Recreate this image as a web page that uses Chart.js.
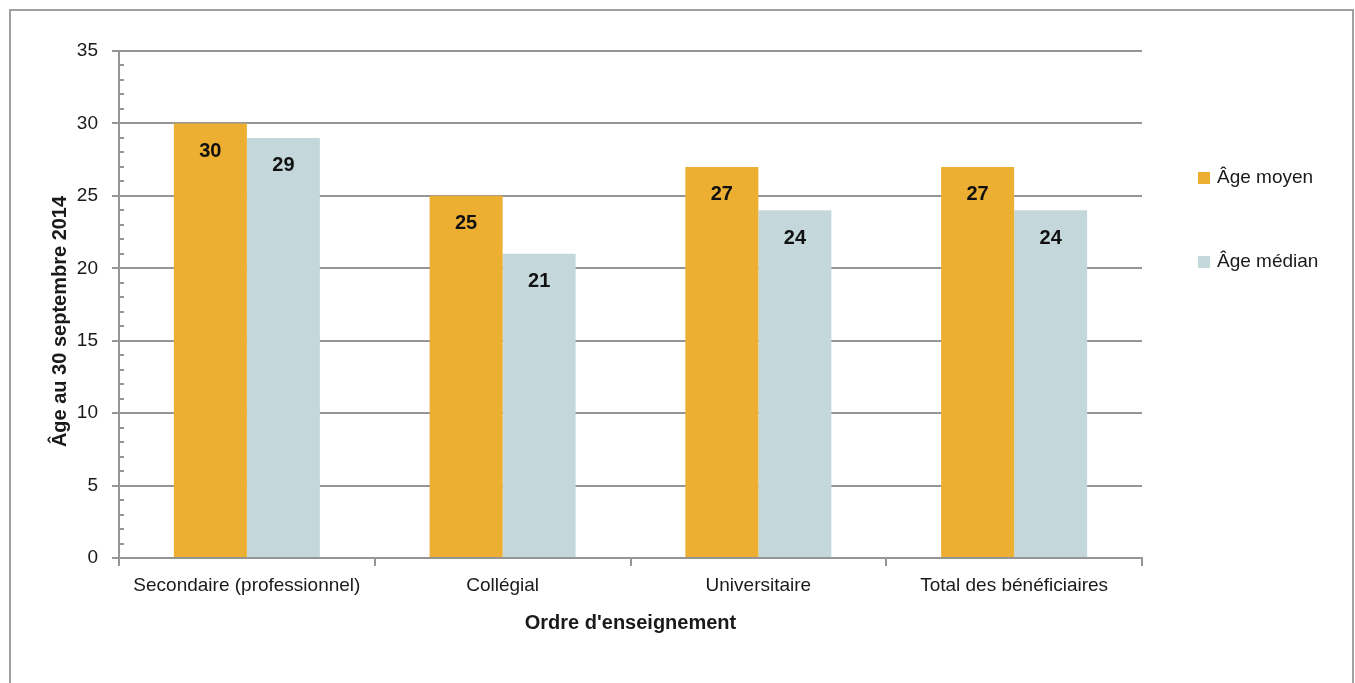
<!DOCTYPE html>
<html>
<head>
<meta charset="utf-8">
<script src="https://cdn.jsdelivr.net/npm/chart.js@4/dist/chart.umd.min.js"></script>
<style>
  html, body { margin: 0; padding: 0; background: #fff; overflow: hidden; }
  #wrap { position: relative; width: 1355px; height: 683px; }
  #frame { position: absolute; left: 9px; top: 9px; width: 1345px; height: 700px; border: 2px solid #a0a0a0; box-sizing: border-box; pointer-events: none; }
  canvas { position: absolute; left: 0; top: 0; }
</style>
</head>
<body>
<div id="wrap">
  <canvas id="c" width="1355" height="683"></canvas>
  <div id="frame"></div>
</div>
<script>
const categories = ["Secondaire (professionnel)", "Collégial", "Universitaire", "Total des bénéficiaires"];
const ageMoyen = [30, 25, 27, 27];
const ageMedian = [29, 21, 24, 24];
const seriesNames = ["Âge moyen", "Âge médian"];
const yTicks = [0, 5, 10, 15, 20, 25, 30, 35];
const yTitle = "Âge au 30 septembre 2014";

const FONT = "'Liberation Sans', Arial, sans-serif";
const GRID = '#959595';
const TXT = '#1a1a1a';

const minorTicks = {
  id: 'minorTicks',
  afterDraw(chart) {
    const y = chart.scales.y, ctx = chart.ctx;
    ctx.save();
    ctx.strokeStyle = GRID; ctx.lineWidth = 2;
    for (let v = y.min; v <= y.max; v++) {
      if (v % 5 === 0) continue;
      const py = Math.round(y.getPixelForValue(v));
      ctx.beginPath(); ctx.moveTo(y.right, py); ctx.lineTo(y.right + 5, py); ctx.stroke();
    }
    ctx.restore();
  }
};

const barLabels = {
  id: 'barLabels',
  afterDatasetsDraw(chart) {
    const ctx = chart.ctx;
    ctx.save();
    ctx.font = "bold 20px " + FONT;
    ctx.fillStyle = '#111';
    ctx.textAlign = 'center'; ctx.textBaseline = 'middle';
    chart.data.datasets.forEach((ds, i) => {
      chart.getDatasetMeta(i).data.forEach((bar, j) => {
        ctx.fillText(String(ds.data[j]), bar.x, bar.y + 28);
      });
    });
    ctx.restore();
  }
};

const sideLegend = {
  id: 'sideLegend',
  afterDraw(chart) {
    const ctx = chart.ctx;
    const ys = [178, 262];
    ctx.save();
    ctx.font = "19px " + FONT;
    ctx.textAlign = 'left'; ctx.textBaseline = 'middle';
    chart.data.datasets.forEach((ds, i) => {
      ctx.fillStyle = ds.backgroundColor;
      ctx.fillRect(1198, ys[i] - 6, 12, 12);
      ctx.fillStyle = TXT;
      ctx.fillText(ds.label, 1217, ys[i]);
    });
    ctx.restore();
  }
};

// y-axis title drawn centred slightly below the middle of the plot, as in the original
const yTitlePlugin = {
  id: 'yTitlePlugin',
  afterDraw(chart) {
    const ctx = chart.ctx, a = chart.chartArea;
    ctx.save();
    ctx.font = "bold 20px " + FONT;
    ctx.fillStyle = TXT;
    ctx.textAlign = 'center'; ctx.textBaseline = 'middle';
    ctx.translate(60, (a.top + a.bottom) / 2 + 17);
    ctx.rotate(-Math.PI / 2);
    ctx.fillText(yTitle, 0, 0);
    ctx.restore();
  }
};

new Chart(document.getElementById('c'), {
  type: 'bar',
  data: {
    labels: categories,
    datasets: [
      { label: seriesNames[0], data: ageMoyen, backgroundColor: '#EDAF31', barPercentage: 1, categoryPercentage: 0.571 },
      { label: seriesNames[1], data: ageMedian, backgroundColor: '#C4D8DC', barPercentage: 1, categoryPercentage: 0.571 }
    ]
  },
  options: {
    responsive: false,
    animation: false,
    layout: { padding: { top: 51, right: 213, bottom: 45, left: 0 } },
    plugins: { legend: { display: false }, tooltip: { enabled: false } },
    scales: {
      x: {
        grid: { display: true, offset: true, drawOnChartArea: false, drawTicks: true, tickLength: 8, color: GRID, lineWidth: 2 },
        border: { display: true, color: GRID, width: 2 },
        ticks: { color: TXT, font: { family: FONT, size: 19 }, padding: 8, maxRotation: 0, autoSkip: false },
        title: { display: true, text: "Ordre d'enseignement", color: TXT, font: { family: FONT, size: 20, weight: 'bold' }, padding: { top: 0, bottom: 3 } },
        afterFit(s) { s.height = 80; }
      },
      y: {
        min: 0, max: 35,
        afterBuildTicks(s) { s.ticks = yTicks.map(v => ({ value: v })); },
        grid: { color: GRID, lineWidth: 2, drawTicks: true, tickLength: 7 },
        border: { display: true, color: GRID, width: 2 },
        ticks: { color: TXT, font: { family: FONT, size: 19 }, padding: 14 },
        title: { display: false },
        afterFit(s) { s.width = 119; }
      }
    }
  },
  plugins: [minorTicks, barLabels, sideLegend, yTitlePlugin]
});
</script>
</body>
</html>
